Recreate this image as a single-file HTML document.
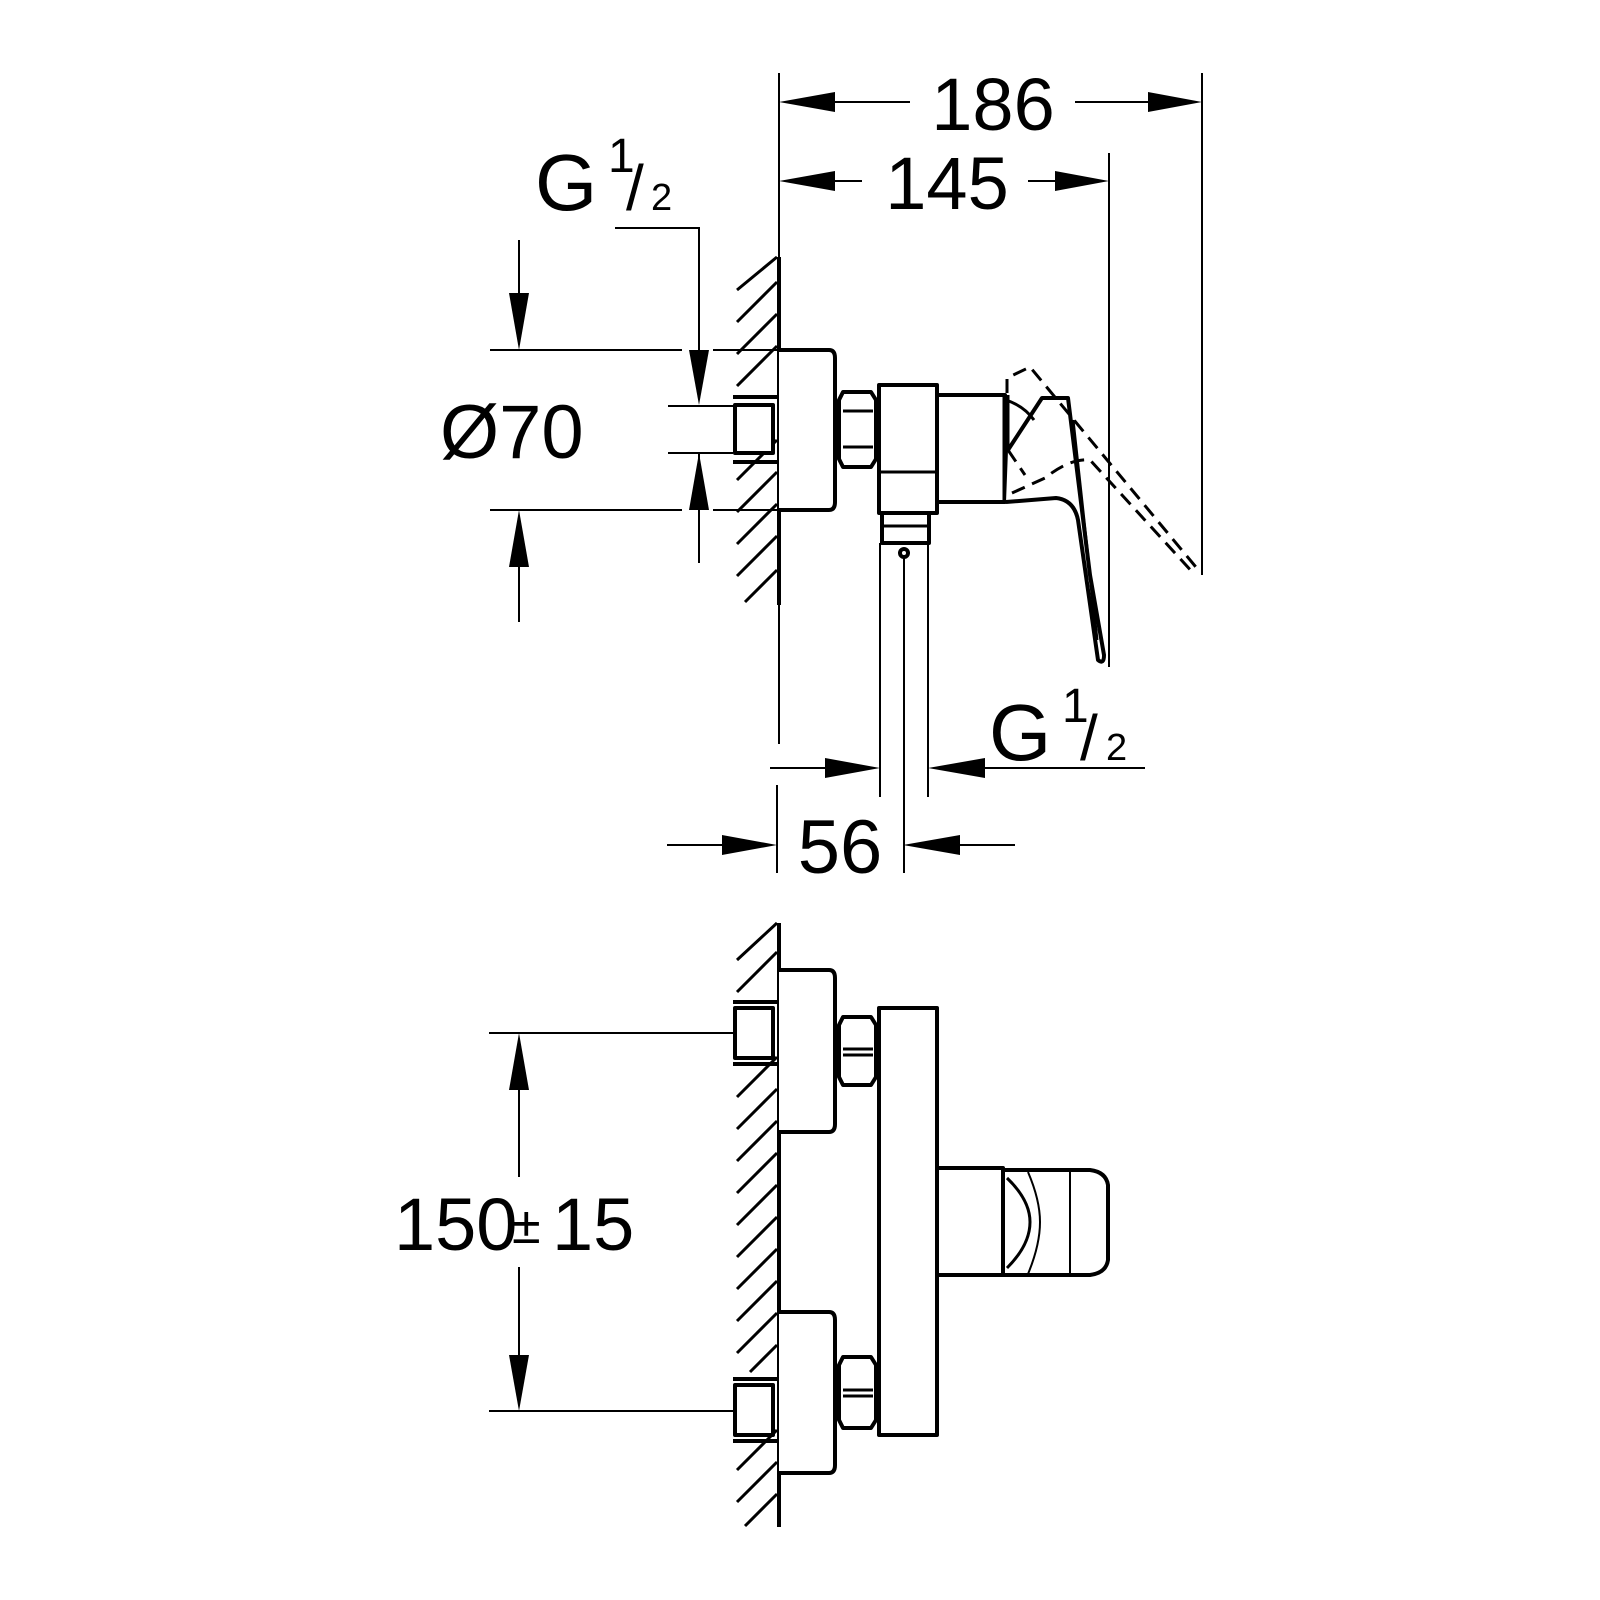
<!DOCTYPE html>
<html><head><meta charset="utf-8"><style>
html,body{margin:0;padding:0;background:#fff;}
svg{display:block;}
text{font-family:"Liberation Sans",Arial,sans-serif;fill:#000;}
</style></head><body>
<svg width="1600" height="1600" viewBox="0 0 1600 1600" xmlns="http://www.w3.org/2000/svg">
<rect width="1600" height="1600" fill="#fff"/>

<g stroke="#000" stroke-width="3" fill="none">
<line x1="737" y1="290" x2="777" y2="257"/>
<line x1="737" y1="322" x2="777" y2="282"/>
<line x1="737" y1="354" x2="777" y2="314"/>
<line x1="737" y1="386" x2="777" y2="346"/>
<line x1="737" y1="480" x2="777" y2="440"/>
<line x1="737" y1="512" x2="777" y2="472"/>
<line x1="737" y1="544" x2="777" y2="504"/>
<line x1="737" y1="576" x2="777" y2="536"/>
<line x1="745" y1="602" x2="777" y2="570"/>
<line x1="737" y1="960" x2="777" y2="923"/>
<line x1="737" y1="992" x2="777" y2="952"/>
<line x1="737" y1="1097" x2="777" y2="1057"/>
<line x1="737" y1="1129" x2="777" y2="1089"/>
<line x1="737" y1="1161" x2="777" y2="1121"/>
<line x1="737" y1="1193" x2="777" y2="1153"/>
<line x1="737" y1="1225" x2="777" y2="1185"/>
<line x1="737" y1="1257" x2="777" y2="1217"/>
<line x1="737" y1="1289" x2="777" y2="1249"/>
<line x1="737" y1="1321" x2="777" y2="1281"/>
<line x1="737" y1="1353" x2="777" y2="1313"/>
<line x1="750" y1="1372" x2="777" y2="1345"/>
<line x1="737" y1="1470" x2="777" y2="1430"/>
<line x1="737" y1="1502" x2="777" y2="1462"/>
<line x1="745" y1="1526" x2="777" y2="1494"/>
</g>

<g stroke="#000" fill="none">
<line x1="779" y1="73" x2="779" y2="744" stroke-width="2"/>
<line x1="779" y1="257" x2="779" y2="605" stroke-width="4"/>
<line x1="779" y1="923" x2="779" y2="1527" stroke-width="4"/>
</g>

<g stroke="#000" stroke-width="2" fill="none">
<line x1="1202" y1="73" x2="1202" y2="575"/>
<line x1="1109" y1="153" x2="1109" y2="667"/>
<line x1="835" y1="102" x2="910" y2="102"/>
<line x1="1075" y1="102" x2="1148" y2="102"/>
<line x1="835" y1="181" x2="862" y2="181"/>
<line x1="1028" y1="181" x2="1055" y2="181"/>
<polyline points="615,228 699,228 699,350"/>
<line x1="699" y1="453" x2="699" y2="563"/>
<line x1="668" y1="406" x2="733" y2="406"/>
<line x1="668" y1="453" x2="733" y2="453"/>
<line x1="490" y1="350" x2="682" y2="350"/>
<line x1="713" y1="350" x2="779" y2="350"/>
<line x1="490" y1="510" x2="682" y2="510"/>
<line x1="713" y1="510" x2="779" y2="510"/>
<line x1="519" y1="240" x2="519" y2="300"/>
<line x1="519" y1="560" x2="519" y2="622"/>
<line x1="770" y1="768" x2="825" y2="768"/>
<line x1="985" y1="768" x2="1145" y2="768"/>
<line x1="880" y1="543" x2="880" y2="797"/>
<line x1="928" y1="543" x2="928" y2="797"/>
<line x1="904" y1="553" x2="904" y2="873"/>
<line x1="777" y1="785" x2="777" y2="873"/>
<line x1="667" y1="845" x2="722" y2="845"/>
<line x1="960" y1="845" x2="1015" y2="845"/>
<line x1="489" y1="1033" x2="733" y2="1033"/>
<line x1="489" y1="1411" x2="733" y2="1411"/>
<line x1="519" y1="1090" x2="519" y2="1177"/>
<line x1="519" y1="1267" x2="519" y2="1355"/>
</g>

<g fill="#000">
<polygon points="779,102 835,92 835,112"/>
<polygon points="1202,102 1148,92 1148,112"/>
<polygon points="779,181 835,171 835,191"/>
<polygon points="1109,181 1055,171 1055,191"/>
<polygon points="519,350 509,293 529,293"/>
<polygon points="519,510 509,567 529,567"/>
<polygon points="699,405 689,350 709,350"/>
<polygon points="699,453 689,510 709,510"/>
<polygon points="880,768 825,758 825,778"/>
<polygon points="928,768 985,758 985,778"/>
<polygon points="777,845 722,835 722,855"/>
<polygon points="903,845 960,835 960,855"/>
<polygon points="519,1033 509,1090 529,1090"/>
<polygon points="519,1411 509,1355 529,1355"/>
</g>

<g stroke="#000" stroke-width="4" fill="#fff" stroke-linejoin="round">
<line x1="733" y1="397" x2="777" y2="397"/>
<line x1="733" y1="462" x2="777" y2="462"/>
<rect x="735" y="405" width="38" height="48"/>
<path d="M779,350 H829 Q835,350 835,358 V502 Q835,510 829,510 H779"/>
<path d="M843,392 H871 L876,400 V459 L871,467 H843 L839,459 V400 Z"/>
<line x1="843" y1="411" x2="873" y2="411" stroke-width="3"/>
<line x1="843" y1="447" x2="873" y2="447" stroke-width="3"/>
<rect x="879" y="385" width="58" height="128"/>
<line x1="879" y1="472" x2="937" y2="472" stroke-width="3"/>
<rect x="882" y="513" width="47" height="30"/>
<line x1="882" y1="526" x2="929" y2="526" stroke-width="3"/>
<circle cx="904" cy="553" r="4"/>
<rect x="937" y="395" width="68" height="107"/>
<line x1="1006" y1="395" x2="1006" y2="502" stroke-width="7"/>
<path d="M1008,450 L1042,398 H1068 L1090,575 L1104,655 Q1104,665 1098,660 L1078,520 Q1074,500 1056,498 L1006,502" fill="#fff"/>
<line x1="1073" y1="420" x2="1097" y2="640" stroke-width="3"/>
<path d="M1006,400 Q1024,406 1034,420" fill="none" stroke-width="3"/>
</g>
<g stroke="#000" stroke-width="3" fill="none" stroke-dasharray="14,8">
<path d="M1007,415 V378 L1030,367 L1200,572"/>
<path d="M1012,493 L1045,478 Q1070,458 1090,460 L1195,575"/>
<path d="M1008,450 L1025,475"/>
</g>

<g stroke="#000" stroke-width="4" fill="#fff" stroke-linejoin="round">
<line x1="733" y1="1002" x2="777" y2="1002"/>
<line x1="733" y1="1064" x2="777" y2="1064"/>
<rect x="735" y="1008" width="38" height="50"/>
<path d="M779,970 H829 Q835,970 835,978 V1124 Q835,1132 829,1132 H779"/>
<path d="M843,1017 H871 L876,1025 V1077 L871,1085 H843 L839,1077 V1025 Z"/>
<line x1="843" y1="1049" x2="873" y2="1049" stroke-width="3"/>
<line x1="843" y1="1055" x2="873" y2="1055" stroke-width="3"/>
<line x1="733" y1="1379" x2="777" y2="1379"/>
<line x1="733" y1="1441" x2="777" y2="1441"/>
<rect x="735" y="1385" width="38" height="50"/>
<path d="M779,1312 H829 Q835,1312 835,1320 V1465 Q835,1473 829,1473 H779"/>
<path d="M843,1357 H871 L876,1365 V1420 L871,1428 H843 L839,1420 V1365 Z"/>
<line x1="843" y1="1390" x2="873" y2="1390" stroke-width="3"/>
<line x1="843" y1="1396" x2="873" y2="1396" stroke-width="3"/>
<rect x="879" y="1008" width="58" height="427"/>
<rect x="937" y="1168" width="66" height="107"/>
<path d="M1003,1170 H1090 Q1106,1172 1108,1185 V1260 Q1106,1273 1090,1275 H1003 Z"/>
<path d="M1007,1178 Q1030,1200 1030,1222 Q1030,1245 1007,1268" fill="none" stroke-width="3"/>
<path d="M1028,1172 Q1040,1200 1040,1222 Q1040,1245 1028,1274" fill="none" stroke-width="2"/>
<line x1="1070" y1="1172" x2="1070" y2="1274" stroke-width="2"/>
</g>

<text x="993" y="130" font-size="74" text-anchor="middle">186</text>
<text x="947" y="209" font-size="74" text-anchor="middle">145</text>
<text x="535" y="210" font-size="80">G</text>
<text x="608" y="172" font-size="48">1</text>
<text x="626" y="210" font-size="64">/</text>
<text x="651" y="210" font-size="38">2</text>
<text x="440" y="458" font-size="76">Ø70</text>
<text x="989" y="760" font-size="80">G</text>
<text x="1062" y="722" font-size="48">1</text>
<text x="1080" y="760" font-size="64">/</text>
<text x="1106" y="760" font-size="38">2</text>
<text x="840" y="873" font-size="76" text-anchor="middle">56</text>
<text x="394" y="1250" font-size="74">150</text>
<text x="512" y="1243" font-size="52">±</text>
<text x="552" y="1250" font-size="74">15</text>
</svg>
</body></html>
